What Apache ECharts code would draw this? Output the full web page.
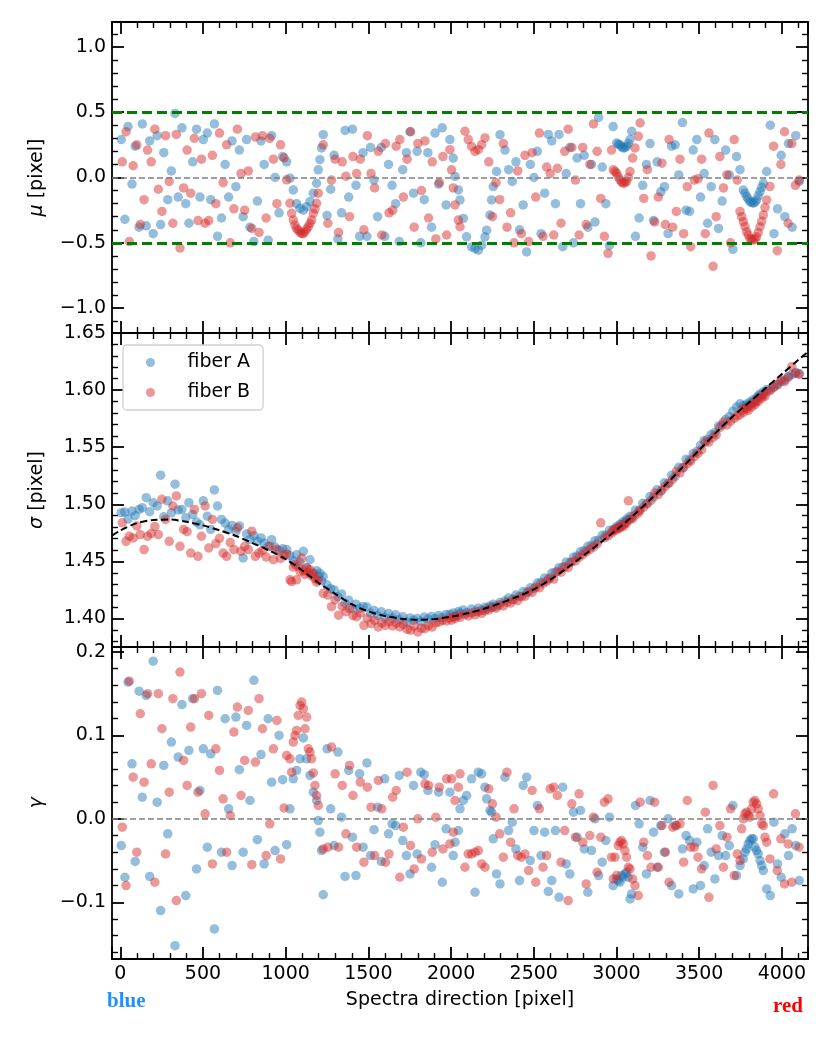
<!DOCTYPE html>
<html>
<head>
<meta charset="utf-8">
<script src="https://cdn.jsdelivr.net/npm/echarts@6/dist/echarts.min.js"></script>
<style>
  html, body { margin: 0; padding: 0; background: #fff; }
  #chart { width: 830px; height: 1038px; }
</style>
</head>
<body>
<div id="chart"></div>
<script>
// ========== 数据 ==========
// fiber A 谱线位置 [pixel]
const xA = [
  6, 28, 47, 71, 90, 114, 133, 157, 178, 199, 223, 244, 263, 287, 309, 331, 350, 373, 396, 415,
  438, 461, 482, 502, 526, 547, 569, 588, 612, 634, 655, 676, 699, 720, 743, 764, 784, 808, 829, 851,
  870, 894, 915, 936, 960, 982,
  1006, 1026, 1046, 1066, 1086, 1107, 1127, 1147, 1167, 1187, 1197, 1207, 1217, 1227,
  1250, 1272, 1293, 1316, 1338, 1359, 1381, 1404, 1425, 1447, 1468, 1491, 1513, 1534, 1556, 1578,
  1599, 1622, 1643, 1665, 1687, 1708, 1730, 1752, 1773, 1795, 1817, 1838, 1860, 1882, 1903, 1925, 1947, 1970,
  1993, 2013, 2024, 2044, 2054, 2074, 2094, 2124, 2145, 2165, 2185, 2205, 2215, 2235, 2245, 2255, 2275, 2296, 2326,
  2348, 2370, 2392, 2414, 2436, 2457, 2479, 2501, 2522, 2544, 2566, 2588, 2609, 2631, 2653, 2675,
  2696, 2718, 2740, 2762, 2783, 2805, 2827, 2849, 2870, 2892, 2914, 2936, 2958, 2980,
  3001, 3011, 3021, 3031, 3041, 3051, 3061, 3071, 3082, 3092,
  3115, 3137, 3159, 3181, 3203, 3224, 3246, 3268, 3290, 3312, 3333, 3355, 3377, 3399, 3421, 3442,
  3464, 3486, 3508, 3530, 3551, 3573, 3595, 3617, 3639, 3660, 3682, 3704, 3726, 3747,
  3767, 3777, 3787, 3797, 3807, 3817, 3827, 3837, 3847, 3857, 3868, 3878, 3888, 3908,
  3930, 3952, 3974, 3996, 4018, 4040, 4062, 4084, 4105,
];
const muA = [
  0.29, -0.32, 0.39, -0.05, 0.24, -0.38, 0.41, -0.37, 0.28, -0.43, 0.32, -0.36, 0.19, -0.17, 0.05, 0.49,
  -0.15, 0.38, -0.2, -0.35, 0.12, 0.37, -0.15, 0.29, 0.34, -0.17, 0.41, -0.45, -0.31, 0.1, -0.15, 0.28,
  -0.07, 0.21, -0.3, 0.29, -0.38, -0.49, -0.18, 0.28, 0.1, -0.48, 0.32, 0.0, -0.27, 0.16,
  0.12, -0.005, -0.095, -0.2, -0.236, -0.25, -0.223, -0.185, -0.12, -0.044, 0.059, 0.136, 0.226, 0.328,
  -0.29, -0.09, 0.17, -0.47, -0.27, 0.36, -0.15, 0.37, -0.06, -0.45, 0.19, -0.45, 0.23, -0.02, -0.3, 0.23,
  -0.45, 0.1, -0.06, -0.2, -0.49, 0.06, 0.19, 0.35, -0.12, 0.2, -0.5, -0.17, 0.19, -0.38, 0.34, -0.05, 0.38, -0.21,
  0.29, 0.149, 0.008, -0.095, -0.172, -0.313, -0.454, -0.531, -0.545, -0.556, -0.518, -0.454, -0.403, -0.287, -0.172, -0.069, 0.046, 0.328, 0.21,
  0.06, -0.03, 0.12, -0.4, -0.21, -0.57, 0.1, 0.0, 0.2, -0.43, -0.12, 0.33, 0.28, -0.2, 0.33, -0.53,
  0.03, 0.23, -0.5, 0.15, -0.2, 0.17, -0.38, 0.1, -0.34, 0.46, 0.08, -0.2, -0.52, 0.39,
  0.264, 0.255, 0.25, 0.235, 0.226, 0.228, 0.238, 0.26, 0.29, 0.354,
  -0.45, -0.31, -0.06, 0.1, 0.26, -0.33, 0.12, -0.11, -0.07, -0.43, 0.24, 0.25, 0.02, 0.42, -0.25, -0.26,
  0.21, 0.29, -0.15, 0.03, -0.35, -0.07, 0.29, -0.39, -0.18, 0.21, 0.02, -0.55, 0.16, 0.06,
  -0.095, -0.12, -0.146, -0.165, -0.185, -0.19, -0.197, -0.19, -0.172, -0.14, -0.108, -0.075, -0.044, 0.046,
  0.4, -0.43, -0.24, 0.17, -0.3, 0.26, -0.38, 0.32, -0.03,
];
const sigA = [
  1.4926, 1.4932, 1.487, 1.494, 1.49, 1.4955, 1.497, 1.5058, 1.4935, 1.5014, 1.4985, 1.5255, 1.489, 1.503, 1.4925, 1.5176,
  1.495, 1.4955, 1.4882, 1.5014, 1.491, 1.4845, 1.482, 1.503, 1.4895, 1.478, 1.5126, 1.4985, 1.4867, 1.4835, 1.478, 1.4815,
  1.4762, 1.481, 1.453, 1.474, 1.469, 1.4725, 1.4676, 1.4705, 1.466, 1.463, 1.469, 1.4625, 1.4595, 1.461,
  1.4603, 1.455, 1.4505, 1.4558, 1.449, 1.4588, 1.444, 1.4514, 1.4395, 1.4418, 1.437, 1.4395, 1.433, 1.4367,
  1.4295, 1.426, 1.425, 1.419, 1.4215, 1.4132, 1.416, 1.4085, 1.4125, 1.4088, 1.4105, 1.41, 1.4045, 1.407, 1.4025, 1.4058,
  1.401, 1.4044, 1.4005, 1.4032, 1.399, 1.4015, 1.397, 1.4005, 1.3985, 1.4, 1.3975, 1.4012, 1.3995, 1.4018, 1.3998, 1.4025, 1.4008, 1.4035,
  1.4035, 1.4048, 1.402, 1.406, 1.4045, 1.4075, 1.405, 1.4082, 1.406, 1.409, 1.4072, 1.4098, 1.4085, 1.411, 1.4095, 1.4125, 1.4108, 1.414, 1.4155,
  1.418, 1.4165, 1.4205, 1.4195, 1.4235, 1.4225, 1.4268, 1.4262, 1.431, 1.4318, 1.4355, 1.4345, 1.4398, 1.4405, 1.4445, 1.4448,
  1.4495, 1.4488, 1.4535, 1.4548, 1.4585, 1.4595, 1.4632, 1.4638, 1.468, 1.4685, 1.4728, 1.473, 1.4772, 1.4778,
  1.4805, 1.4795, 1.4825, 1.482, 1.4848, 1.4842, 1.487, 1.4865, 1.4895, 1.4888,
  1.4948, 1.4945, 1.5008, 1.5005, 1.5068, 1.5062, 1.5128, 1.5115, 1.5188, 1.5182, 1.5255, 1.5245, 1.5325, 1.5318, 1.5395, 1.5388,
  1.5445, 1.5462, 1.5515, 1.5558, 1.5568, 1.5612, 1.5628, 1.5685, 1.5695, 1.5742, 1.5768, 1.5815, 1.5852, 1.588,
  1.5865, 1.585, 1.5878, 1.5862, 1.5895, 1.5885, 1.5915, 1.5898, 1.5932, 1.5948, 1.5965, 1.5955, 1.5985, 1.6005,
  1.6005, 1.603, 1.6045, 1.6075, 1.609, 1.612, 1.6135, 1.6155, 1.6145,
];
const gamA = [
  -0.032, -0.07, 0.164, 0.066, -0.051, 0.153, 0.026, 0.148, -0.069, 0.189, 0.02, -0.11, 0.064, -0.018, 0.092, -0.152,
  0.074, 0.137, -0.092, 0.082, 0.144, -0.06, 0.034, 0.084, -0.034, 0.078, -0.132, 0.154, -0.04, 0.12, 0.012, -0.056,
  0.122, 0.059, -0.04, 0.112, 0.022, 0.166, -0.025, 0.077, -0.054, 0.12, 0.044, -0.038, 0.1, 0.047,
  -0.031, 0.012, 0.048, 0.058, 0.072, 0.097, 0.072, 0.052, 0.032, 0.022, -0.002, -0.016, -0.038, -0.091,
  0.084, 0.012, -0.032, 0.08, 0.002, -0.069, 0.058, -0.022, -0.068, 0.054, -0.034, 0.067, -0.044, -0.013, 0.014, -0.051,
  0.048, -0.018, -0.006, -0.008, 0.052, -0.026, -0.044, -0.066, 0.04, -0.042, 0.056, 0.053, 0.034, -0.058, -0.031, 0.032, -0.076, -0.012,
  0.032, -0.044, -0.028, -0.014, 0.012, 0.022, 0.028, 0.048, -0.088, 0.056, 0.054, 0.038, 0.024, 0.01, 0.008, -0.024, -0.066, -0.078, 0.05,
  -0.014, -0.004, -0.036, -0.074, 0.04, 0.05, -0.05, -0.014, 0.016, -0.044, -0.016, -0.087, -0.074, -0.014, -0.094, 0.038,
  -0.054, -0.066, 0.008, -0.022, 0.01, -0.036, -0.088, -0.038, 0.0, -0.068, -0.052, -0.026, 0.002, -0.08,
  -0.072, -0.074, -0.076, -0.068, -0.07, -0.066, -0.064, -0.07, -0.096, -0.09,
  0.016, -0.006, -0.034, -0.066, 0.022, -0.016, -0.058, -0.008, -0.04, 0.0, -0.08, -0.008, -0.09, -0.036, -0.02, -0.026,
  -0.084, -0.028, -0.08, -0.056, -0.012, -0.04, -0.072, -0.044, -0.02, -0.044, -0.032, 0.016, -0.068, -0.056,
  -0.048, -0.04, -0.036, -0.03, -0.026, -0.024, -0.024, -0.034, -0.038, -0.042, -0.05, -0.056, -0.062, -0.084,
  -0.092, -0.004, -0.054, -0.07, -0.018, -0.044, -0.012, -0.032, -0.074,
];

// fiber B 谱线位置 [pixel]
const xB = [
  12, 35, 55, 78, 100, 121, 144, 165, 187, 209, 230, 252, 274, 296, 318, 339, 361, 383, 404, 426,
  448, 470, 491, 513, 535, 557, 578, 600, 622, 643, 665, 687, 708, 730, 752, 774, 795, 817, 839, 860,
  882, 904, 926, 947, 969, 990,
  1006, 1026, 1036, 1046, 1056, 1066, 1076, 1087, 1097, 1107, 1117, 1127, 1137, 1147, 1157, 1167, 1177, 1187, 1197, 1227,
  1255, 1277, 1299, 1320, 1342, 1364, 1386, 1407, 1429, 1451, 1473, 1494, 1516, 1538, 1560, 1581,
  1603, 1625, 1647, 1668, 1690, 1712, 1734, 1755, 1777, 1799, 1821, 1842, 1864, 1886, 1908, 1929, 1951, 1973,
  1993, 2003, 2013, 2024, 2044, 2054, 2084, 2104, 2124, 2145, 2165, 2185, 2205,
  2228, 2250, 2272, 2294, 2316, 2338, 2360, 2381, 2403, 2425, 2447, 2469, 2490, 2512, 2534, 2556, 2578, 2599,
  2621, 2643, 2665, 2687, 2708, 2730, 2752, 2774, 2796, 2817, 2839, 2861, 2883, 2905, 2927, 2949, 2970,
  2981, 2991, 3001, 3011, 3021, 3031, 3041, 3051, 3061, 3072, 3082, 3098, 3112, 3132, 3143,
  3165, 3187, 3209, 3231, 3253, 3275, 3296, 3318, 3340, 3362, 3384, 3406, 3428, 3449,
  3471, 3493, 3515, 3537, 3559, 3584, 3603, 3625, 3647, 3668, 3690, 3712, 3730,
  3747, 3757, 3767, 3777, 3787, 3797, 3807, 3817, 3827, 3837, 3847, 3857, 3868, 3878, 3888, 3898, 3908, 3928,
  3950, 3972, 3994, 4016, 4038, 4060, 4082, 4104,
];
const muB = [
  0.12, 0.35, -0.49, 0.09, 0.25, -0.36, -0.17, 0.21, 0.12, 0.37, -0.09, -0.26, 0.32, -0.03, -0.35, 0.33,
  -0.54, -0.08, 0.21, -0.12, 0.3, -0.33, 0.14, -0.35, -0.33, 0.17, -0.2, 0.34, -0.04, 0.25, -0.5, -0.24,
  0.37, 0.03, -0.25, 0.05, -0.39, 0.31, -0.42, 0.32, -0.31, 0.3, 0.14, -0.2, 0.25, 0.15,
  -0.018, -0.197, -0.274, -0.326, -0.364, -0.39, -0.403, -0.42, -0.428, -0.43,
  -0.415, -0.395, -0.377, -0.35, -0.326, -0.274, -0.24, -0.197, -0.12, 0.25,
  -0.35, -0.02, 0.14, -0.42, 0.12, 0.01, -0.3, 0.16, 0.03, 0.14, -0.4, 0.32, 0.03, -0.08, 0.2, -0.44,
  0.26, -0.27, -0.25, 0.24, 0.29, -0.15, 0.14, 0.35, -0.38, 0.26, -0.1, 0.28, -0.31, 0.12, -0.47, -0.04, 0.16, -0.44,
  0.213, 0.059, -0.08, -0.21, -0.326, -0.377, 0.354, 0.29, 0.238, 0.2, 0.213, 0.251, 0.303,
  0.12, -0.3, -0.04, -0.17, 0.26, -0.38, -0.27, -0.5, 0.05, -0.43, 0.17, -0.49, 0.19, -0.15, 0.34, -0.45, 0.08, 0.03,
  -0.44, 0.07, -0.35, 0.2, 0.37, 0.23, -0.02, -0.44, 0.23, -0.36, 0.1, 0.41, 0.2, -0.16, -0.45, -0.58, 0.21,
  0.059, 0.045, 0.033, 0.005, -0.018, -0.035, -0.044, -0.04, -0.031, 0.0, 0.046, 0.149, 0.226, 0.315, 0.418,
  -0.16, 0.06, -0.6, -0.34, -0.15, 0.11, -0.36, 0.29, -0.38, -0.26, 0.14, -0.43, -0.07, -0.53,
  -0.02, -0.01, 0.14, -0.43, 0.34, -0.68, -0.3, 0.16, -0.08, 0.02, -0.5, 0.29, -0.02,
  -0.26, -0.3, -0.338, -0.375, -0.415, -0.44, -0.467, -0.475, -0.479, -0.47, -0.454, -0.42, -0.377, -0.335, -0.287, -0.23, -0.172, -0.069,
  0.24, -0.56, 0.1, 0.35, -0.35, 0.26, -0.06, -0.02,
];
const sigB = [
  1.4838, 1.4676, 1.472, 1.4705, 1.481, 1.4735, 1.4603, 1.472, 1.4745, 1.4805, 1.4735, 1.5043, 1.4867, 1.4676, 1.4985, 1.5073,
  1.4632, 1.478, 1.476, 1.4573, 1.4955, 1.4544, 1.472, 1.4985, 1.4617, 1.4867, 1.4655, 1.4702, 1.4573, 1.4544, 1.4665, 1.4603,
  1.4794, 1.4588, 1.4632, 1.4603, 1.4764, 1.4544, 1.4573, 1.4595, 1.4538, 1.4632, 1.4515, 1.4603, 1.4525, 1.4555,
  1.4565, 1.4338, 1.4323, 1.445, 1.4475, 1.4338, 1.4455, 1.441, 1.4529, 1.4418,
  1.4385, 1.4445, 1.4402, 1.4426, 1.4372, 1.4395, 1.435, 1.4318, 1.4335, 1.422,
  1.4205, 1.4103, 1.4162, 1.4029, 1.4105, 1.4059, 1.4088, 1.4025, 1.4015, 1.4048, 1.394, 1.4002, 1.3955, 1.3985, 1.3926, 1.3962,
  1.394, 1.3972, 1.3935, 1.3958, 1.3926, 1.3948, 1.3905, 1.3897, 1.3932, 1.3882, 1.3915, 1.391, 1.3938, 1.3925, 1.3962, 1.397, 1.3985, 1.3978,
  1.4005, 1.3985, 1.4015, 1.4, 1.4025, 1.401, 1.4035, 1.4022, 1.4048, 1.4032, 1.406, 1.4045, 1.4068,
  1.4075, 1.4098, 1.409, 1.412, 1.411, 1.414, 1.4135, 1.4168, 1.4155, 1.419, 1.4195, 1.4235, 1.4228, 1.4275, 1.4268, 1.4305, 1.4325, 1.4355,
  1.4345, 1.4412, 1.4405, 1.4452, 1.4445, 1.4495, 1.4505, 1.4535, 1.4558, 1.4582, 1.4605, 1.4625, 1.4652, 1.4838, 1.4705, 1.4722, 1.4748,
  1.4765, 1.4785, 1.4775, 1.4795, 1.479, 1.4812, 1.4805, 1.4828, 1.4835, 1.503, 1.4865, 1.4875, 1.4905, 1.4925, 1.4948,
  1.4975, 1.5005, 1.5035, 1.5098, 1.5085, 1.5125, 1.5158, 1.5185, 1.522, 1.5288, 1.5275, 1.5322, 1.5355, 1.5378,
  1.5418, 1.5445, 1.5478, 1.5545, 1.5545, 1.5585, 1.5608, 1.5672, 1.572, 1.5695, 1.5728, 1.5752, 1.5775,
  1.5785, 1.5825, 1.5805, 1.5842, 1.5835, 1.5822, 1.5865, 1.5852, 1.5885, 1.5872, 1.5905, 1.5898, 1.5935, 1.5928, 1.5958, 1.5945, 1.5985, 1.5995,
  1.6022, 1.6048, 1.6088, 1.6075, 1.6112, 1.6205, 1.6148, 1.6138,
];
const gamB = [
  -0.01, -0.08, 0.165, 0.05, -0.04, 0.126, 0.044, 0.15, 0.066, -0.076, 0.15, 0.108, -0.042, 0.032, 0.144, -0.098,
  0.176, 0.07, 0.04, 0.11, 0.144, 0.032, 0.15, 0.006, 0.124, -0.054, 0.084, 0.058, 0.024, -0.04, 0.004, 0.104,
  0.134, 0.028, 0.07, 0.13, -0.055, 0.068, 0.144, 0.108, -0.044, -0.006, 0.084, 0.118, -0.048, 0.013,
  0.076, 0.072, 0.056, 0.092, 0.1, 0.106, 0.124, 0.136, 0.14, 0.132,
  0.108, 0.122, 0.084, 0.08, 0.072, 0.055, 0.04, 0.028, 0.016, -0.036,
  -0.034, 0.086, 0.054, -0.034, 0.04, -0.018, 0.064, 0.028, -0.034, 0.044, -0.052, 0.038, 0.014, -0.044, 0.046, 0.012,
  -0.052, -0.042, 0.026, 0.034, -0.07, -0.01, 0.056, -0.032, -0.06, 0.0, -0.048, 0.042, 0.04, -0.04, 0.002, 0.038, -0.036, 0.048,
  -0.03, 0.048, -0.016, 0.022, 0.038, 0.054, -0.058, -0.042, -0.042, -0.04, -0.038, -0.054, -0.058,
  0.036, 0.018, 0.002, -0.018, -0.046, 0.056, -0.028, 0.012, -0.044, -0.046, -0.042, -0.062, 0.034, -0.076, 0.012, -0.058, -0.044, 0.036,
  0.038, 0.028, -0.052, -0.014, -0.098, 0.018, -0.022, 0.03, -0.028, -0.078, -0.02, 0.002, -0.064, -0.022, 0.02, 0.024, -0.046,
  -0.072, -0.046, -0.068, -0.032, -0.028, -0.026, -0.03, -0.038, -0.046, -0.058, -0.06, -0.072, -0.08, -0.092, 0.02,
  -0.028, -0.044, -0.058, 0.02, -0.058, -0.008, -0.04, -0.076, -0.01, -0.008, -0.006, -0.052, 0.022, -0.034,
  -0.034, -0.046, -0.06, 0.008, -0.094, 0.04, -0.036, -0.008, -0.058, -0.022, 0.012, -0.068, -0.042,
  -0.05, -0.012, 0.0, 0.006, 0.008, 0.004, 0.002, 0.012, 0.02, 0.022, 0.018, 0.012, 0.004, -0.006, -0.008, -0.022, -0.028, -0.048,
  0.03, -0.062, -0.024, -0.078, -0.03, -0.076, 0.006, -0.034,
];

// σ 拟合曲线
const fitX = [
  -50, 0, 100, 200, 300, 400, 500, 600, 700, 800, 900, 1000, 1100, 1200, 1300, 1400, 1500, 1600, 1700, 1800, 1900,
  2000, 2100, 2200, 2300, 2400, 2500, 2600, 2700, 2800, 2900, 3000, 3100, 3200, 3300, 3400, 3500, 3600, 3700, 3800,
  3900, 4000, 4100, 4158,
];
const fitY = [
  1.4725, 1.477, 1.4835, 1.4862, 1.4866, 1.4846, 1.4815, 1.4772, 1.4722, 1.466, 1.4595, 1.452, 1.442, 1.431, 1.4215,
  1.4125, 1.4062, 1.4022, 1.3998, 1.3988, 1.3995, 1.4015, 1.4045, 1.4085, 1.4135, 1.419, 1.4255, 1.434, 1.444, 1.455,
  1.466, 1.4775, 1.49, 1.5035, 1.5175, 1.5325, 1.5475, 1.5625, 1.5765, 1.589, 1.6015, 1.614, 1.6265, 1.6335,
];

// 坐标范围
const X_MIN = -50, X_MAX = 4158;
const MU_RANGE = [-1.19, 1.19];
const SIG_RANGE = [1.375, 1.65];
const GAM_RANGE = [-0.168, 0.206];

// ========== 样式 ==========
const FONT = "DejaVu Sans";
const BLUE = "rgba(31,119,180,0.6)";
const RED = "rgba(214,39,40,0.6)";
const minus = (s) => s.replace("-", "\u2212");

function pairs(xs, ys) {
  return xs.map((x, i) => [x, ys[i]]).filter((p) => p[1] !== undefined);
}

function frameAxis(gridIndex, position, showLabel) {
  return {
    type: "value",
    gridIndex,
    position,
    axisLine: { onZero: false, lineStyle: { color: "#000", width: 1.8 } },
    axisTick: { inside: true, length: 12, lineStyle: { color: "#000", width: 1.8 } },
    minorTick: { show: true, splitNumber: 5, length: 6, lineStyle: { color: "#000", width: 1.4 } },
    splitLine: { show: false },
    axisLabel: {
      show: showLabel,
      color: "#000",
      fontFamily: FONT,
      fontSize: 19,
      margin: 6,
      showMinLabel: false,
      showMaxLabel: false,
    },
  };
}

function xAx(gridIndex, position, showLabel) {
  const ax = frameAxis(gridIndex, position, showLabel);
  ax.min = X_MIN;
  ax.max = X_MAX;
  ax.splitNumber = 8;
  ax.axisLabel.formatter = (v) => String(v);
  return ax;
}

function yAx(gridIndex, position, range, digits, name) {
  const ax = frameAxis(gridIndex, position, position === "left");
  ax.min = range[0];
  ax.max = range[1];
  ax.splitNumber = 5;
  ax.axisLabel.formatter = (v) => minus(v.toFixed(digits));
  if (name) {
    ax.name = name;
    ax.nameLocation = "middle";
    ax.nameGap = 65;
    ax.nameTextStyle = {
      color: "#000",
      fontFamily: FONT,
      fontSize: 19,
      rich: { i: { fontStyle: "italic", fontFamily: FONT, fontSize: 19, color: "#000" } },
    };
  }
  return ax;
}

function scatter(name, xi, xs, ys, color, extra = {}) {
  return Object.assign(
    {
      name,
      type: "scatter",
      xAxisIndex: xi,
      yAxisIndex: xi,
      data: pairs(xs, ys),
      symbolSize: 9.5,
      itemStyle: { color },
    },
    extra,
  );
}

function hLines(items) {
  return {
    silent: true,
    symbol: ["none", "none"],
    label: { show: false },
    data: items,
  };
}

const grayZero = { yAxis: 0, lineStyle: { color: "#808080", type: [6, 3], width: 1.6 } };

// ========== 图表 ==========
const chart = echarts.init(document.getElementById("chart"));

const xAxes = [
  xAx(0, "bottom", false), xAx(0, "top", false),
  xAx(1, "bottom", false), xAx(1, "top", false),
  xAx(2, "bottom", true), xAx(2, "top", false),
];
xAxes[4].name = "Spectra direction [pixel]";
xAxes[4].nameLocation = "middle";
xAxes[4].nameGap = 32;
xAxes[4].nameTextStyle = { color: "#000", fontFamily: FONT, fontSize: 19 };

const yAxes = [
  yAx(0, "left", MU_RANGE, 1, "{i|μ} [pixel]"), yAx(0, "right", MU_RANGE, 1),
  yAx(1, "left", SIG_RANGE, 2, "{i|σ} [pixel]"), yAx(1, "right", SIG_RANGE, 2),
  yAx(2, "left", GAM_RANGE, 1, "{i|γ}"), yAx(2, "right", GAM_RANGE, 1),
];
yAxes[2].axisLabel.showMaxLabel = true;

chart.setOption({
  animation: false,
  backgroundColor: "#fff",
  grid: [
    { left: 112, top: 22, width: 696, height: 311 },
    { left: 112, top: 333, width: 696, height: 314 },
    { left: 112, top: 647, width: 696, height: 312 },
  ],
  xAxis: xAxes,
  yAxis: yAxes,
  legend: {
    data: ["fiber A", "fiber B"],
    orient: "vertical",
    left: 123,
    top: 345,
    padding: [8, 13, 8, 23],
    itemGap: 11,
    itemWidth: 16,
    itemHeight: 9,
    backgroundColor: "rgba(255,255,255,0.8)",
    borderColor: "#d0d0d0",
    borderWidth: 1.3,
    borderRadius: 4,
    textStyle: { color: "#000", fontFamily: FONT, fontSize: 19, padding: [0, 0, 0, 24] },
  },
  series: [
    scatter("fiber A", 0, xA, muA, BLUE),
    scatter("fiber B", 0, xB, muB, RED, {
      markLine: hLines([
        { yAxis: 0.5, lineStyle: { color: "#008000", type: [10, 5], width: 2.8 } },
        { yAxis: -0.5, lineStyle: { color: "#008000", type: [10, 5], width: 2.8 } },
        grayZero,
      ]),
    }),
    scatter("fiber A", 2, xA, sigA, BLUE),
    scatter("fiber B", 2, xB, sigB, RED),
    {
      name: "fit",
      type: "line",
      xAxisIndex: 2,
      yAxisIndex: 2,
      data: pairs(fitX, fitY),
      showSymbol: false,
      smooth: 0.3,
      lineStyle: { color: "#000", type: [7, 3.5], width: 2 },
      z: 5,
    },
    scatter("fiber A", 4, xA, gamA, BLUE),
    scatter("fiber B", 4, xB, gamB, RED, { markLine: hLines([grayZero]) }),
  ],
  graphic: [
    {
      type: "text",
      left: 107,
      top: 991,
      style: { text: "blue", fill: "#1e90ff", font: 'bold 21px "Liberation Serif"' },
    },
    {
      type: "text",
      left: 773,
      top: 996,
      style: { text: "red", fill: "#ff0000", font: 'bold 21px "Liberation Serif"' },
    },
  ],
});

window.addEventListener("resize", () => chart.resize());
</script>
</body>
</html>
